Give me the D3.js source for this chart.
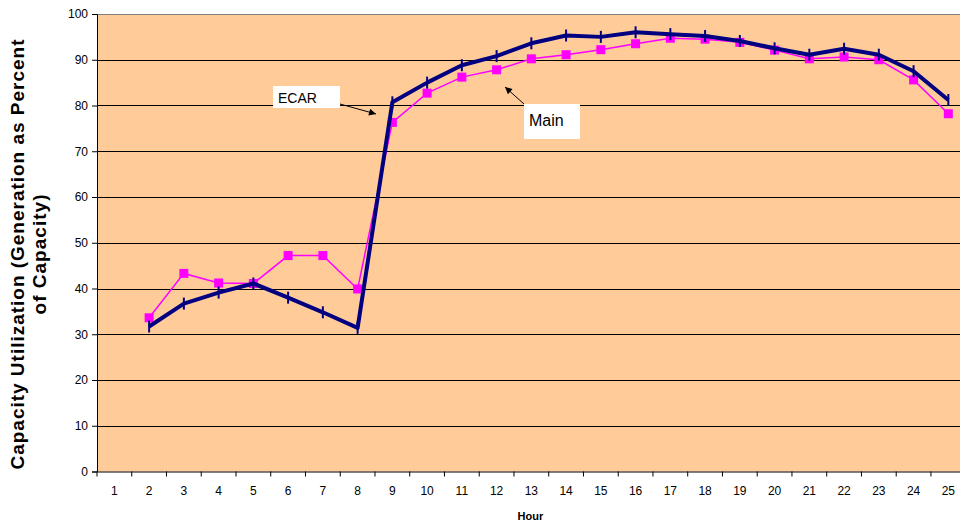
<!DOCTYPE html>
<html><head><meta charset="utf-8">
<script src="https://cdn.jsdelivr.net/npm/d3@7"></script>
<style>body{margin:0;background:#fff}svg{display:block;font-family:"Liberation Sans",Arial,sans-serif}</style>
</head><body><svg id="c" width="960" height="527"></svg>
<script>
const hours = d3.range(1, 26).map(String);
const seriesHours = d3.range(2, 26).map(String);
const ecar = [31.7,36.7,39.1,41.1,38.0,34.8,31.4,80.7,85.0,88.8,90.8,93.6,95.3,95.0,96.0,95.6,95.2,94.1,92.5,91.1,92.4,91.1,87.5,81.2];
const mainVals = [33.6,43.3,41.2,41.1,47.2,47.2,39.9,76.3,82.7,86.2,87.8,90.2,91.1,92.2,93.5,94.7,94.5,93.8,92.1,90.2,90.6,90.0,85.6,78.2];
const yTicks = [0,10,20,30,40,50,60,70,80,90,100];

const svg = d3.select("#c");
const L = 97, R = 965.7, T = 14, B = 471.5;
const x = d3.scaleBand().domain(hours).range([L, R]);
const y = d3.scaleLinear().domain([0, 100]).range([B, T]);
const cx = h => x(h) + x.bandwidth() / 2;

svg.append("rect").attr("x", L).attr("y", T).attr("width", R - L).attr("height", B - T).attr("fill", "#FFCC99");

// gridlines
svg.append("g").selectAll("line").data(yTicks.filter(v => v > 0)).join("line")
  .attr("x1", L).attr("x2", R).attr("y1", d => Math.round(y(d)) + 0.5).attr("y2", d => Math.round(y(d)) + 0.5)
  .attr("stroke", d => d === 100 ? "#808080" : "#000").attr("stroke-width", 1);

// y axis
const ya = svg.append("g").attr("transform", `translate(${L},0)`)
  .call(d3.axisLeft(y).tickValues(yTicks).tickSize(5).tickPadding(4));
ya.select(".domain").attr("stroke", "#000");
ya.selectAll("text").attr("font-size", 12).attr("font-family", "Liberation Sans, Arial").attr("fill", "#000");

// x axis
const xa = svg.append("g").attr("transform", `translate(0,${B})`)
  .call(d3.axisBottom(x).tickSize(0).tickPadding(15));
xa.select(".domain").attr("stroke", "#000");
xa.selectAll("text").attr("font-size", 12).attr("font-family", "Liberation Sans, Arial").attr("fill", "#000");
svg.append("g").selectAll("line").data(hours).join("line")
  .attr("x1", d => x(d)).attr("x2", d => x(d)).attr("y1", B).attr("y2", B + 5).attr("stroke", "#000");

// axis titles
svg.append("text").attr("x", (L + R) / 2 - 1).attr("y", 520).attr("text-anchor", "middle")
  .attr("font-size", 11).attr("font-weight", "bold").text("Hour");
const yt = svg.append("text").attr("transform", "translate(24,254.5) rotate(-90)").attr("text-anchor", "middle")
  .attr("font-size", 19).attr("font-weight", "bold");
yt.append("tspan").attr("x", 0).attr("dy", 0).attr("textLength", 430).attr("lengthAdjust", "spacing")
  .text("Capacity Utilization (Generation as Percent");
yt.append("tspan").attr("x", 0).attr("dy", 22).attr("textLength", 120).attr("lengthAdjust", "spacing")
  .text("of Capacity)");

// Main series
const line = d3.line().x((d, i) => cx(seriesHours[i])).y(d => y(d));
svg.append("path").datum(mainVals).attr("d", line).attr("fill", "none").attr("stroke", "#FF00FF").attr("stroke-width", 1.5);
svg.append("g").selectAll("rect").data(mainVals).join("rect")
  .attr("x", (d, i) => cx(seriesHours[i]) - 4.5).attr("y", d => y(d) - 4.5)
  .attr("width", 9).attr("height", 9).attr("fill", "#FF00FF");

// ECAR series
svg.append("path").datum(ecar).attr("d", line).attr("fill", "none").attr("stroke", "#000080")
  .attr("stroke-width", 4).attr("stroke-linejoin", "round");
svg.append("g").selectAll("line").data(ecar).join("line")
  .attr("x1", (d, i) => cx(seriesHours[i])).attr("x2", (d, i) => cx(seriesHours[i]))
  .attr("y1", d => y(d) - 6).attr("y2", d => y(d) + 6).attr("stroke", "#000080").attr("stroke-width", 2);

// annotations
const defs = svg.append("defs");
defs.append("marker").attr("id", "ah").attr("viewBox", "0 0 10 10").attr("refX", 10).attr("refY", 5)
  .attr("markerWidth", 9).attr("markerHeight", 7).attr("markerUnits", "userSpaceOnUse").attr("orient", "auto")
  .append("path").attr("d", "M0,0 L10,5 L0,10 z").attr("fill", "#000");
svg.append("rect").attr("x", 273).attr("y", 86).attr("width", 67).attr("height", 22).attr("fill", "#fff");
svg.append("text").attr("x", 278).attr("y", 103).attr("font-size", 14).text("ECAR");
svg.append("line").attr("x1", 340).attr("y1", 104).attr("x2", 376).attr("y2", 114)
  .attr("stroke", "#000").attr("stroke-width", 1).attr("marker-end", "url(#ah)");
svg.append("rect").attr("x", 524).attr("y", 104).attr("width", 56).attr("height", 35).attr("fill", "#fff");
svg.append("text").attr("x", 529).attr("y", 126).attr("font-size", 16).text("Main");
svg.append("line").attr("x1", 524).attr("y1", 104).attr("x2", 505).attr("y2", 87)
  .attr("stroke", "#000").attr("stroke-width", 1).attr("marker-end", "url(#ah)");
</script></body></html>
